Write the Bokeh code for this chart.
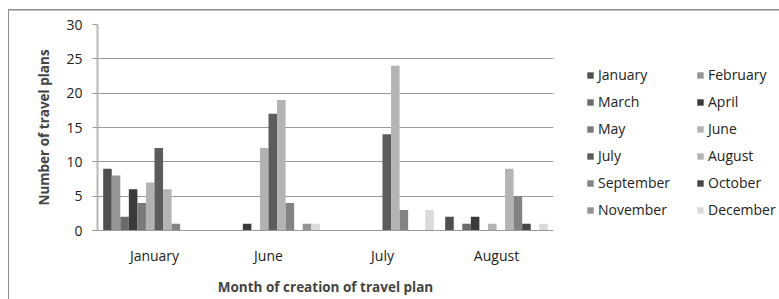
from bokeh.plotting import figure
from bokeh.models import ColumnDataSource, FactorRange, Legend, LegendItem, SingleIntervalTicker
from bokeh.transform import dodge
from bokeh.embed import file_html
from bokeh.resources import INLINE

categories = ["January", "June", "July", "August"]
series_names = ["January", "February", "March", "April", "May", "June",
                "July", "August", "September", "October", "November", "December"]
s_january = [9, 0, 0, 2]
s_february = [8, 0, 0, 0]
s_march = [2, 0, 0, 1]
s_april = [6, 1, 0, 2]
s_may = [4, 0, 0, 0]
s_june = [7, 12, 0, 1]
s_july = [12, 17, 14, 0]
s_august = [6, 19, 24, 9]
s_september = [1, 4, 3, 5]
s_october = [0, 0, 0, 1]
s_november = [0, 1, 0, 0]
s_december = [0, 1, 3, 1]
series_values = [s_january, s_february, s_march, s_april, s_may, s_june,
                 s_july, s_august, s_september, s_october, s_november, s_december]
colors = ["#4f4f4f", "#969696", "#6b6b6b", "#3a3a3a", "#7a7a7a", "#b2b2b2",
          "#5c5c5c", "#b4b4b4", "#838383", "#474747", "#939393", "#dadada"]

data = {"cat": categories}
for name, vals in zip(series_names, series_values):
    data[name] = vals
source = ColumnDataSource(data)

FONT = "Open Sans"

bg = ("linear-gradient(#8c8c8c,#8c8c8c) 8px 9px / 1px 290px no-repeat, "
      "linear-gradient(#8c8c8c,#8c8c8c) 8px 9px / 771px 1px no-repeat, "
      "linear-gradient(#c4c4c4,#c4c4c4) 9px 10px / 770px 1px no-repeat, #ffffff")

p = figure(x_range=FactorRange(*categories, range_padding=0), y_range=(0, 30),
           frame_width=456, frame_height=206, output_backend="svg", toolbar_location=None,
           min_border_left=97, min_border_right=0, min_border_top=24, min_border_bottom=69,
           styles={"background": bg})
p.outline_line_color = None
p.background_fill_color = "white"
p.border_fill_alpha = 0

bw = 0.075
renderers = []
for k, (name, col) in enumerate(zip(series_names, colors)):
    r = p.vbar(x=dodge("cat", (k - 5.5) * bw, range=p.x_range), top=name, width=bw,
               source=source, fill_color=col, line_color=None)
    renderers.append(r)

items = [LegendItem(label=n, renderers=[r]) for n, r in zip(series_names, renderers)]
lg = Legend(items=items, orientation="horizontal", ncols=2, location="center_left",
            glyph_width=8, glyph_height=8,
            label_text_font=FONT, label_text_font_size="14px", label_text_color="#222222",
            spacing=8, padding=0, margin=33, label_standoff=4, label_height=19,
            label_width=90,
            title=" ", title_text_font_size="14px", title_standoff=14,
            background_fill_alpha=0, border_line_color=None)
p.add_layout(lg, "right")

p.xgrid.grid_line_color = None
p.ygrid.grid_line_color = "#9a9a9a"
p.yaxis.ticker = SingleIntervalTicker(interval=5)
p.yaxis.axis_line_color = "#b8b8b8"
p.yaxis.axis_line_width = 2
p.yaxis.major_tick_line_color = "#9a9a9a"
p.yaxis.major_tick_out = 5
p.yaxis.major_tick_in = 0
p.yaxis.minor_tick_line_color = None
p.yaxis.major_label_standoff = 10
p.yaxis.major_label_text_font = FONT
p.yaxis.major_label_text_font_size = "14px"
p.yaxis.major_label_text_color = "#222222"
p.yaxis.axis_label = "Number of travel plans"
p.yaxis.axis_label_text_font = FONT
p.yaxis.axis_label_text_font_style = "bold"
p.yaxis.axis_label_text_font_size = "13.5px"
p.yaxis.axis_label_standoff = 10

p.xaxis.axis_line_color = "#9a9a9a"
p.xaxis.major_tick_line_color = None
p.xaxis.major_label_standoff = 9
p.xaxis.major_label_text_font = FONT
p.xaxis.major_label_text_font_size = "14px"
p.xaxis.major_label_text_color = "#222222"
p.xaxis.axis_label = "Month of creation of travel plan"
p.xaxis.axis_label_text_font = FONT
p.xaxis.axis_label_text_font_style = "bold"
p.xaxis.axis_label_text_font_size = "13.5px"
p.xaxis.axis_label_standoff = 10

open("out.html", "w").write(file_html(p, INLINE))
